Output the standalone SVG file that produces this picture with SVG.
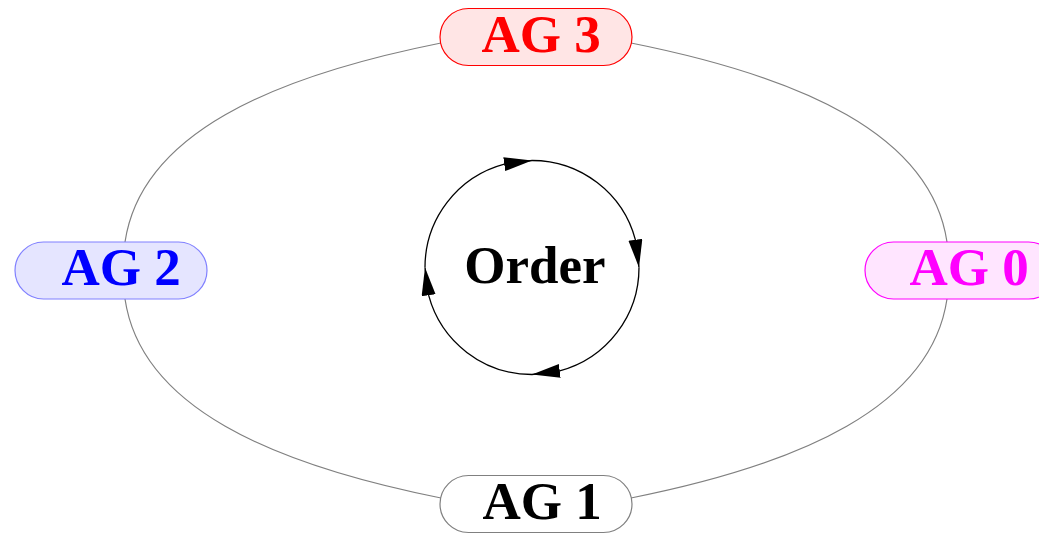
<svg xmlns="http://www.w3.org/2000/svg" width="1039" height="536" viewBox="0 0 1039 536">
<defs>
<style>
.lbl{font-family:"Liberation Serif","Times New Roman",serif;font-weight:bold;font-size:53px;text-anchor:middle}
.node{stroke-width:1.2}
.edge{fill:none;stroke:#808080;stroke-width:1.2}
.cyc{fill:none;stroke:#000;stroke-width:1.3}
</style>
<marker id="ah" markerUnits="userSpaceOnUse" markerWidth="30" markerHeight="16" refX="28" refY="7" orient="auto">
<path d="M0,0 L28,7 L0,14 z" fill="#000"/>
</marker>
</defs>
<rect width="1039" height="536" fill="#fff"/>
<g id="connectors">
<path class="edge" d="M441,43 C271,77 141,134 125,242"/>
<path class="edge" d="M631,43 C801,77 931,134 947,242"/>
<path class="edge" d="M441,498 C271,464 141,407 125,299"/>
<path class="edge" d="M631,498 C801,464 931,407 947,299"/>
<path class="cyc" d="M425,267.5 A107,107 0 0 1 504.3,164.1 L532,160.5" marker-end="url(#ah)"/>
<path class="cyc" d="M532,160.5 A107,107 0 0 1 635.4,239.8 L639,267.5" marker-end="url(#ah)"/>
<path class="cyc" d="M639,267.5 A107,107 0 0 1 559.7,370.9 L532,374.5" marker-end="url(#ah)"/>
<path class="cyc" d="M532,374.5 A107,107 0 0 1 428.6,295.2 L425,267.5" marker-end="url(#ah)"/>
</g>
<g id="order">
<text class="lbl" x="535" y="283" fill="#000">Order</text>
</g>
<g id="ag3">
<rect class="node" x="440" y="8.5" width="192" height="57" rx="28.5" fill="#ffe5e5" stroke="#ff0000"/>
<text class="lbl" x="541" y="52" fill="#ff0000">AG 3</text>
</g>
<g id="ag2">
<rect class="node" x="15" y="242" width="192" height="57" rx="28.5" fill="#e5e5ff" stroke="#8080ff"/>
<text class="lbl" x="121" y="285" fill="#0000ff">AG 2</text>
</g>
<g id="ag0">
<rect class="node" x="865" y="242" width="192" height="57" rx="28.5" fill="#ffe5ff" stroke="#ff00ff"/>
<text class="lbl" x="969" y="285" fill="#ff00ff">AG 0</text>
</g>
<g id="ag1">
<rect class="node" x="440" y="475.5" width="192" height="57" rx="28.5" fill="#ffffff" stroke="#808080"/>
<text class="lbl" x="542" y="519" fill="#000">AG 1</text>
</g>
</svg>
